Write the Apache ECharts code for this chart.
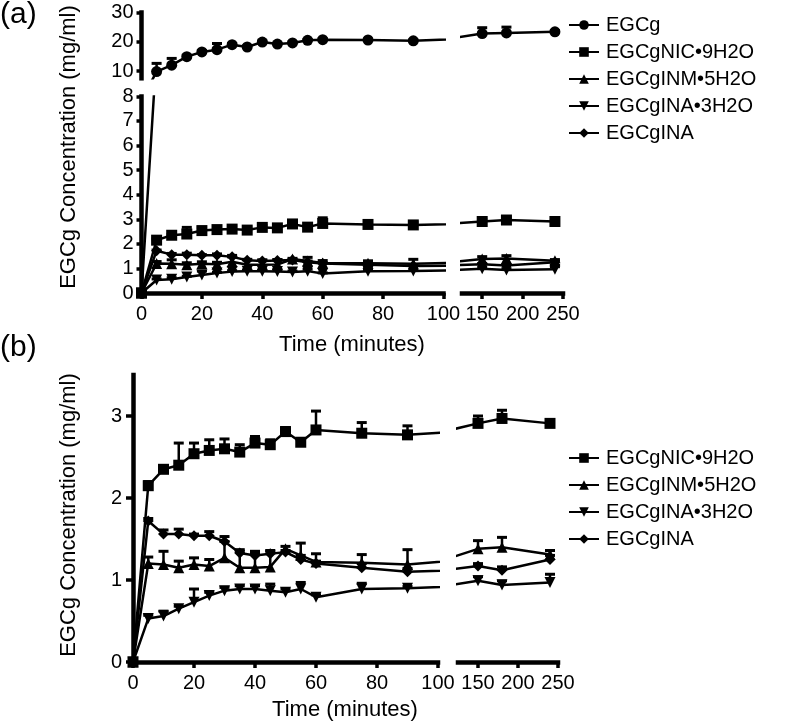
<!DOCTYPE html>
<html><head><meta charset="utf-8">
<script src="https://cdn.jsdelivr.net/npm/echarts@6/dist/echarts.min.js"></script>
<style>html,body{margin:0;padding:0;background:#fff}#c{width:800px;height:725px}</style>
</head><body><div id="c"></div>
<script>
// ---- data (time in minutes, concentration in mg/ml) ----
const times   = [0, 5, 10, 15, 20, 25, 30, 35, 40, 45, 50, 55, 60, 75, 90, 150, 180, 240];
const egcg    = [0, 9.8, 12.0, 14.9, 16.5, 17.3, 19.0, 18.2, 19.9, 19.2, 19.6, 20.5, 20.7, 20.6, 20.3, 22.8, 23.0, 23.4];
const egcgErr = [0, 2.8, 2.3, 0.5, 0.5, 2.1, 0.4, 0.4, 0.4, 0.3, 0.3, 0.3, 0.3, 0.3, 0.3, 2.0, 2.0, 0.4];
const nic     = [0, 2.15, 2.35, 2.40, 2.54, 2.58, 2.60, 2.56, 2.67, 2.65, 2.81, 2.68, 2.83, 2.79, 2.77, 2.91, 2.97, 2.91];
const nicErr  = [0, 0.05, 0.03, 0.27, 0.13, 0.13, 0.12, 0.09, 0.08, 0.06, 0.05, 0.03, 0.23, 0.13, 0.11, 0.09, 0.10, 0.04];
const inm     = [0, 1.20, 1.19, 1.15, 1.19, 1.17, 1.27, 1.15, 1.15, 1.16, 1.38, 1.30, 1.22, 1.21, 1.19, 1.38, 1.40, 1.31];
const inmErr  = [0, 0.08, 0.16, 0.08, 0.08, 0.08, 0.20, 0.20, 0.20, 0.20, 0.03, 0.15, 0.10, 0.10, 0.18, 0.10, 0.12, 0.05];
const ina3    = [0, 0.53, 0.56, 0.65, 0.73, 0.81, 0.87, 0.89, 0.89, 0.87, 0.85, 0.89, 0.79, 0.89, 0.90, 0.99, 0.94, 0.97];
const ina3Err = [0, 0.04, 0.06, 0.03, 0.16, 0.04, 0.04, 0.04, 0.04, 0.08, 0.04, 0.08, 0.03, 0.07, 0.02, 0.05, 0.05, 0.10];
const ina     = [0, 1.72, 1.56, 1.56, 1.54, 1.54, 1.47, 1.33, 1.30, 1.32, 1.34, 1.25, 1.20, 1.15, 1.10, 1.17, 1.12, 1.25];
const inaErr  = [0, 0.03, 0.05, 0.06, 0.02, 0.05, 0.06, 0.04, 0.03, 0.03, 0.02, 0.05, 0.03, 0.05, 0.04, 0.03, 0.04, 0.05];

const seriesNames = ['EGCg', 'EGCgNIC\u20229H2O', 'EGCgINM\u20225H2O', 'EGCgINA\u20223H2O', 'EGCgINA'];
const xTicksLeft  = [0, 20, 40, 60, 80, 100];
const xTicksRight = [150, 200, 250];
const yTicksATop  = [10, 20, 30];
const yTicksA     = [0, 1, 2, 3, 4, 5, 6, 7, 8];
const yTicksB     = [0, 1, 2, 3];

const FONT = '"Liberation Sans", Arial, Helvetica, sans-serif';
const SYM = {
  'EGCg': 'circle',
  'EGCgNIC\u20229H2O': 'rect',
  'EGCgINM\u20225H2O': 'triangle',
  'EGCgINA\u20223H2O': 'path://M0,0L10,0L5,9Z',
  'EGCgINA': 'path://M5,0L10,5L5,10L0,5Z'
};
const VALS = {
  'EGCg': [egcg, egcgErr],
  'EGCgNIC\u20229H2O': [nic, nicErr],
  'EGCgINM\u20225H2O': [inm, inmErr],
  'EGCgINA\u20223H2O': [ina3, ina3Err],
  'EGCgINA': [ina, inaErr]
};

const grids = [
  {left: 141.5, top: 12.5, width: 302, height: 65.8},   // (a) upper, 0-100
  {left: 462,   top: 12.5, width: 101, height: 65.8},   // (a) upper, 125-250
  {left: 141.5, top: 96.4, width: 302, height: 196.6},  // (a) lower, 0-100
  {left: 462,   top: 96.4, width: 101, height: 196.6},  // (a) lower, 125-250
  {left: 133,   top: 375,  width: 305, height: 287},    // (b) 0-100
  {left: 458,   top: 375,  width: 100, height: 287}     // (b) 125-250
];
const xR = [[0,100],[125,250],[0,100],[125,250],[0,100],[125,250]];
const yR = [[7.5,30],[7.5,30],[0,8],[0,8],[0,3.5],[0,3.5]];
const gridSeries = [
  ['EGCg'], ['EGCg'],
  seriesNames, seriesNames,
  seriesNames.slice(1), seriesNames.slice(1)
];

const lbl = {color: '#000', fontSize: 20, fontFamily: FONT};
const axLine = {show: true, onZero: false, lineStyle: {color: '#000', width: 4.5, cap: 'square'}};

const xAxis = grids.map((g, i) => {
  const base = {type: 'value', gridIndex: i, min: xR[i][0], max: xR[i][1], splitLine: {show: false}};
  if (i < 2) return Object.assign(base, {show: false});
  const right = (i % 2 === 1);
  const vals = right ? xTicksRight : xTicksLeft;
  return Object.assign(base, {
    axisLine: axLine,
    axisTick: {show: true, length: 6, lineStyle: {color: '#000', width: 3.5}, customValues: vals},
    axisLabel: Object.assign({margin: 11, customValues: vals}, lbl)
  });
});
const yAxis = grids.map((g, i) => {
  const base = {type: 'value', gridIndex: i, min: yR[i][0], max: yR[i][1], splitLine: {show: false}};
  if (i % 2 === 1) return Object.assign(base, {show: false});
  const vals = i === 0 ? yTicksATop : (i === 2 ? yTicksA : yTicksB);
  const isB = i === 4;
  return Object.assign(base, {
    axisLine: axLine,
    axisTick: {show: true, length: isB ? 7 : 5, lineStyle: {color: '#000', width: 3.5}, customValues: vals},
    axisLabel: Object.assign({margin: isB ? 11 : 8, customValues: vals}, lbl)
  });
});

const series = [];
gridSeries.forEach((names, gi) => {
  names.forEach(name => {
    const [vals, errs] = VALS[name];
    series.push({
      type: 'line', name: name, xAxisIndex: gi, yAxisIndex: gi,
      data: times.map((t, k) => [t, vals[k]]),
      symbol: SYM[name], symbolSize: 11, clip: true,
      lineStyle: {color: '#000', width: 2.5}, itemStyle: {color: '#000'},
      emphasis: {disabled: true}, z: 3
    });
    const eData = [];
    times.forEach((t, k) => {
      const lo = vals[k], hi = vals[k] + errs[k];
      if (errs[k] > 0 && t >= xR[gi][0] && t <= xR[gi][1] && lo >= yR[gi][0] && hi <= yR[gi][1]) eData.push([t, lo, hi]);
    });
    series.push({
      type: 'custom', name: 'err_' + name + '_' + gi, xAxisIndex: gi, yAxisIndex: gi,
      data: eData, encode: {x: 0, y: [1, 2]}, silent: true, z: 2,
      renderItem: (params, api) => {
        const p0 = api.coord([api.value(0), api.value(1)]);
        const p1 = api.coord([api.value(0), api.value(2)]);
        const w = 5;
        return {type: 'group', children: [
          {type: 'line', shape: {x1: p0[0], y1: p0[1], x2: p1[0], y2: p1[1]}, style: {stroke: '#000', lineWidth: 2.5}},
          {type: 'line', shape: {x1: p1[0] - w, y1: p1[1], x2: p1[0] + w, y2: p1[1]}, style: {stroke: '#000', lineWidth: 3}}
        ]};
      }
    });
  });
});

const legendCommon = {
  orient: 'vertical', left: 563, itemWidth: 30, itemHeight: 12, itemGap: 7,
  selectedMode: false, textStyle: {color: '#000', fontSize: 20, fontFamily: FONT, padding: [0,0,0,2]}
};

const titleStyle = {fill: '#000', fontSize: 22, fontFamily: FONT, textAlign: 'center', textVerticalAlign: 'middle'};
const graphic = [
  {type: 'text', left: 0, top: 0, style: {text: '(a)', fill: '#000', fontSize: 30, fontFamily: FONT}},
  {type: 'text', left: 0, top: 333, style: {text: '(b)', fill: '#000', fontSize: 30, fontFamily: FONT}},
  {type: 'text', x: 69, y: 147, rotation: Math.PI / 2, style: Object.assign({text: 'EGCg Concentration (mg/ml)'}, titleStyle)},
  {type: 'text', x: 69, y: 515, rotation: Math.PI / 2, style: Object.assign({text: 'EGCg Concentration (mg/ml)'}, titleStyle)},
  {type: 'text', x: 352, y: 345, style: Object.assign({text: 'Time (minutes)'}, titleStyle)},
  {type: 'text', x: 345, y: 710, style: Object.assign({text: 'Time (minutes)'}, titleStyle)}
];

const chart = echarts.init(document.getElementById('c'));
chart.setOption({
  animation: false,
  backgroundColor: '#fff',
  grid: grids,
  xAxis: xAxis,
  yAxis: yAxis,
  legend: [
    Object.assign({top: 10, data: seriesNames}, legendCommon),
    Object.assign({top: 443, data: seriesNames.slice(1)}, legendCommon)
  ],
  graphic: graphic,
  series: series
});
</script></body></html>
